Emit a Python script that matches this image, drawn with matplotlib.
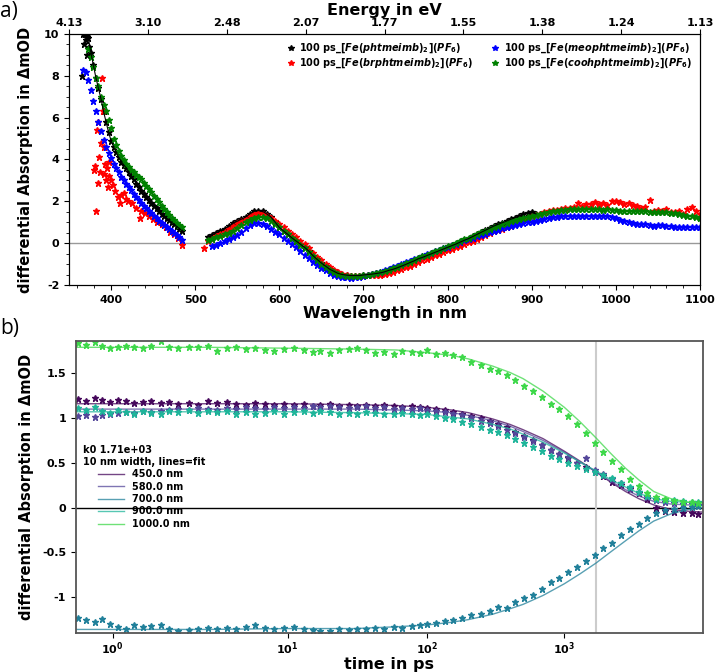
import numpy as np
import matplotlib
matplotlib.use("Agg")
import matplotlib.pyplot as plt
from matplotlib.ticker import AutoMinorLocator, FixedLocator, FixedFormatter

plt.rcParams['font.family'] = ['DejaVu Sans']
plt.rcParams['font.weight'] = 'bold'
plt.rcParams['axes.labelweight'] = 'bold'
plt.rcParams['axes.unicode_minus'] = False
plt.rcParams['mathtext.fontset'] = 'custom'
plt.rcParams['mathtext.rm'] = 'DejaVu Sans:bold'
plt.rcParams['mathtext.it'] = 'DejaVu Sans:bold:italic'
plt.rcParams['mathtext.bf'] = 'DejaVu Sans:bold'

# ---------------- panel a) : spectra at 100 ps ----------------
wl_uv = list(range(367, 485, 3))
black_uv = [10.0, 9.7, 9.8, 9.1, 8.5, 7.9, 7.4, 6.9, 6.3, 5.8, 5.3, 4.9, 4.6, 4.35, 4.1, 3.9,
            3.75, 3.6, 3.4, 3.2, 3.05, 2.85, 2.67, 2.5, 2.35, 2.2, 2.05, 1.92, 1.8, 1.66,
            1.53, 1.4, 1.3, 1.2, 1.1, 1.0, 0.9, 0.8, 0.7, 0.6]
black_extra_wl = [366, 368, 369, 371, 372, 374]
black_extra = [8.0, 9.5, 10.0, 9.0, 10.0, 9.4]
green_uv = [np.nan, np.nan, 9.3, 8.9, 8.4, 7.9, 7.5, 7.0, 6.6, 6.3, 5.9, 5.5, 5.0, 4.7, 4.4, 4.15,
            3.97, 3.8, 3.65, 3.5, 3.38, 3.26, 3.16, 3.05, 2.9, 2.74, 2.58, 2.43, 2.27, 2.11,
            1.95, 1.8, 1.64, 1.49, 1.35, 1.22, 1.1, 0.98, 0.88, 0.78]
blue_uv = [8.3, 8.2, 7.8, 7.3, 6.8, 6.3, 5.8, 5.35, 4.95, 4.6, 4.3, 4.05, 3.8, 3.58, 3.38, 3.18,
           3.0, 2.83, 2.68, 2.52, 2.37, 2.22, 2.07, 1.93, 1.8, 1.67, 1.55, 1.43, 1.32, 1.2,
           1.08, 0.98, 0.88, 0.78, 0.68, 0.58, 0.48, 0.38, 0.28, 0.15]
red_uv_wl = [380, 381, 382, 383, 384, 385, 386, 387, 388, 389, 390, 391, 392, 393, 394, 395,
             396, 397, 398, 400, 402, 405, 408, 410, 412, 415, 418, 420, 425, 430, 434, 435,
             440, 445, 450, 455, 460, 465, 470, 475, 480, 484]
red_uv = [3.5, 3.7, 1.55, 5.4, 2.9, 5.8, 4.1, 3.4, 4.8, 7.9, 6.3, 4.6, 3.3, 3.8, 3.0, 3.6,
          2.7, 3.9, 3.2, 3.0, 2.8, 2.5, 2.2, 1.9, 2.3, 2.4, 2.1, 2.0, 1.9, 1.7, 1.2, 1.55,
          1.45, 1.3, 1.15, 1.0, 0.9, 0.75, 0.55, 0.45, 0.25, -0.1]

wl_black_vis = list(range(515, 906, 5))
black_vis = [0.3, 0.4, 0.5, 0.6, 0.7, 0.8, 0.95, 1.05, 1.15, 1.25,
             1.4, 1.52, 1.56, 1.52, 1.4, 1.25, 1.0, 0.75, 0.58, 0.42,
             0.25, 0.1, -0.05, -0.2, -0.38, -0.6, -0.78, -0.95, -1.1, -1.25,
             -1.35, -1.45, -1.5, -1.53, -1.55, -1.55, -1.55, -1.52, -1.5, -1.48,
             -1.45, -1.42, -1.37, -1.3, -1.25, -1.18, -1.1, -1.02, -0.93, -0.85,
             -0.75, -0.68, -0.6, -0.52, -0.44, -0.36, -0.28, -0.2, -0.12, -0.04,
             0.05, 0.14, 0.22, 0.32, 0.42, 0.52, 0.62, 0.72, 0.82, 0.9,
             0.98, 1.06, 1.14, 1.22, 1.3, 1.38, 1.44, 1.47, 1.4]
wl_green_vis = list(range(515, 1101, 5))
green_vis = [0.15, 0.2, 0.28, 0.35, 0.42, 0.5, 0.6, 0.72, 0.85, 1.0,
             1.12, 1.22, 1.27, 1.25, 1.18, 1.05, 0.9, 0.75, 0.58, 0.42,
             0.27, 0.1, -0.07, -0.25, -0.42, -0.62, -0.8, -0.98, -1.13, -1.27,
             -1.38, -1.47, -1.52, -1.55, -1.57, -1.57, -1.55, -1.53, -1.5, -1.46,
             -1.42, -1.38, -1.33, -1.27, -1.2, -1.12, -1.04, -0.96, -0.88, -0.8,
             -0.72, -0.63, -0.55, -0.47, -0.39, -0.31, -0.23, -0.15, -0.07, 0.02,
             0.1, 0.19, 0.27, 0.35, 0.43, 0.52, 0.6, 0.68, 0.76, 0.84,
             0.91, 0.98, 1.05, 1.11, 1.17, 1.22, 1.27, 1.3, 1.35, 1.4,
             1.44, 1.48, 1.52, 1.55, 1.58, 1.6, 1.62, 1.62, 1.63, 1.64,
             1.63, 1.63, 1.63, 1.62, 1.6, 1.61, 1.58, 1.57, 1.56, 1.55,
             1.54, 1.52, 1.53, 1.52, 1.52, 1.5, 1.5, 1.49, 1.48, 1.47,
             1.45, 1.42, 1.4, 1.36, 1.32, 1.28, 1.24, 1.2]
wl_blue_vis = list(range(520, 1101, 5))
blue_vis = [-0.15, -0.1, 0.0, 0.1, 0.2, 0.3, 0.4, 0.55, 0.72, 0.88,
            0.97, 0.98, 0.92, 0.82, 0.7, 0.55, 0.42, 0.27, 0.12, -0.03,
            -0.2, -0.37, -0.55, -0.72, -0.88, -1.03, -1.17, -1.3, -1.42, -1.5,
            -1.57, -1.62, -1.64, -1.65, -1.64, -1.62, -1.58, -1.54, -1.49, -1.43,
            -1.37, -1.3, -1.23, -1.15, -1.07, -0.99, -0.91, -0.83, -0.76, -0.69,
            -0.62, -0.54, -0.47, -0.39, -0.32, -0.24, -0.17, -0.1, -0.02, 0.06,
            0.13, 0.2, 0.27, 0.34, 0.4, 0.46, 0.53, 0.59, 0.65, 0.71,
            0.77, 0.83, 0.88, 0.92, 0.96, 1.0, 1.03, 1.07, 1.12, 1.16,
            1.2, 1.23, 1.26, 1.28, 1.29, 1.31, 1.32, 1.31, 1.32, 1.3,
            1.31, 1.3, 1.29, 1.3, 1.28, 1.25, 1.2, 1.12, 1.07, 1.0,
            0.95, 0.92, 0.93, 0.9, 0.88, 0.84, 0.86, 0.85, 0.8, 0.82,
            0.78, 0.79, 0.76, 0.78, 0.76, 0.77, 0.78]
wl_red_vis = list(range(510, 1101, 5))
red_vis = [-0.25, 0.1, 0.2, 0.35, 0.45, 0.55, 0.7, 0.8, 0.95, 1.05,
           1.15, 1.3, 1.4, 1.42, 1.4, 1.32, 1.2, 1.05, 0.92, 0.78,
           0.6, 0.45, 0.3, 0.12, -0.05, -0.22, -0.45, -0.65, -0.82, -1.0,
           -1.15, -1.3, -1.4, -1.48, -1.52, -1.55, -1.55, -1.55, -1.55, -1.54,
           -1.53, -1.52, -1.5, -1.46, -1.42, -1.37, -1.3, -1.24, -1.15, -1.08,
           -1.0, -0.9, -0.82, -0.75, -0.67, -0.58, -0.5, -0.42, -0.35, -0.27,
           -0.2, -0.12, -0.02, 0.06, 0.12, 0.2, 0.3, 0.4, 0.5, 0.58,
           0.62, 0.68, 0.75, 0.84, 0.92, 1.02, 1.12, 1.22, 1.3, 1.35,
           1.4, 1.5, 1.55, 1.6, 1.58, 1.65, 1.7, 1.68, 1.72, 1.9,
           1.8, 1.88, 1.85, 1.95, 1.88, 1.9, 1.83, 2.0, 2.02, 1.95,
           1.85, 1.9, 1.82, 1.78, 1.7, 1.75, 2.05, 1.55, 1.6, 1.55,
           1.62, 1.5, 1.48, 1.55, 1.4, 1.62, 1.72, 1.55, 1.4]

spec_labels = [r'100 ps_[$Fe(phtmeimb)_2$]($PF_6$)',
               r'100 ps_[$Fe(brphtmeimb)_2$]($PF_6$)',
               r'100 ps_[$Fe(meophtmeimb)_2$]($PF_6$)',
               r'100 ps_[$Fe(coohphtmeimb)_2$]($PF_6$)']
energy_tick_wl = [300, 400, 500, 600, 700, 800, 900, 1000, 1100]

# ---------------- panel b) : kinetics ----------------
time_ps = [0.78, 0.82, 0.87, 0.92, 0.98, 1.05, 1.13, 1.22, 1.33, 1.46, 1.62, 1.8, 2.0, 2.3,
           2.6, 3.0, 3.4, 3.9, 4.5, 5.2, 6.0, 7.0, 8.1, 9.4, 11, 13, 15, 17, 20, 23, 27, 31,
           36, 42, 49, 57, 66, 77, 89, 100, 115, 135, 155, 180, 210, 245, 285, 330, 380,
           440, 510, 590, 690, 800, 920, 1070, 1240, 1440, 1670, 1930, 2240, 2600, 3000,
           3500, 4050, 4700, 5400, 6300, 7300, 8500, 9500]
kin_450 = [1.21, 1.19, 1.22, 1.20, 1.18, 1.20, 1.19, 1.17, 1.18, 1.19, 1.17, 1.18, 1.16, 1.17,
           1.15, 1.19, 1.17, 1.18, 1.16, 1.15, 1.17, 1.16, 1.15, 1.16, 1.15, 1.16, 1.14, 1.15,
           1.16, 1.14, 1.15, 1.14, 1.15, 1.13, 1.15, 1.14, 1.12, 1.13, 1.12, 1.11, 1.10, 1.09,
           1.07, 1.05, 1.02, 1.00, 0.97, 0.93, 0.90, 0.85, 0.80, 0.75, 0.70, 0.64, 0.60, 0.55,
           0.50, 0.45, 0.40, 0.35, 0.29, 0.25, 0.21, 0.16, 0.10, 0.0, -0.04, -0.05, -0.06,
           -0.06, -0.07]
kin_580 = [1.02, 1.03, 1.01, 1.03, 1.05, 1.06, 1.07, 1.06, 1.08, 1.07, 1.08, 1.09, 1.10, 1.09,
           1.11, 1.10, 1.09, 1.11, 1.10, 1.12, 1.11, 1.10, 1.12, 1.11, 1.12, 1.11, 1.13, 1.12,
           1.13, 1.12, 1.11, 1.12, 1.13, 1.11, 1.12, 1.10, 1.11, 1.10, 1.11, 1.09, 1.08, 1.07,
           1.05, 1.03, 1.00, 0.97, 0.94, 0.91, 0.87, 0.83, 0.79, 0.74, 0.70, 0.64, 0.60, 0.56,
           0.50, 0.55, 0.42, 0.37, 0.32, 0.27, 0.22, 0.17, 0.12, 0.09, 0.06, 0.05, 0.04, 0.04,
           0.03]
kin_700 = [-1.23, -1.25, -1.28, -1.24, -1.30, -1.33, -1.35, -1.31, -1.33, -1.32, -1.31, -1.36,
           -1.38, -1.37, -1.35, -1.34, -1.35, -1.34, -1.35, -1.33, -1.31, -1.34, -1.36, -1.34,
           -1.33, -1.35, -1.37, -1.38, -1.38, -1.36, -1.37, -1.35, -1.36, -1.34, -1.35, -1.33,
           -1.34, -1.32, -1.31, -1.30, -1.29, -1.27, -1.26, -1.23, -1.20, -1.19, -1.15, -1.11,
           -1.12, -1.05, -1.01, -0.97, -0.91, -0.83, -0.79, -0.72, -0.66, -0.60, -0.53, -0.45,
           -0.40, -0.31, -0.24, -0.18, -0.12, -0.06, -0.03, -0.01, 0.0, 0.01, 0.02]
kin_900 = [1.11, 1.09, 1.12, 1.08, 1.06, 1.09, 1.07, 1.05, 1.08, 1.06, 1.05, 1.08, 1.07, 1.09,
           1.06, 1.08, 1.07, 1.08, 1.05, 1.07, 1.04, 1.06, 1.08, 1.05, 1.07, 1.08, 1.06, 1.08,
           1.07, 1.04, 1.06, 1.05, 1.07, 1.06, 1.05, 1.04, 1.06, 1.05, 1.03, 1.04, 1.02, 1.00,
           0.99, 0.96, 0.93, 0.90, 0.87, 0.84, 0.81, 0.77, 0.72, 0.68, 0.63, 0.58, 0.54, 0.50,
           0.46, 0.43, 0.40, 0.36, 0.33, 0.28, 0.23, 0.18, 0.13, 0.10, 0.09, 0.08, 0.07, 0.06,
           0.06]
kin_1000 = [1.84, 1.82, 1.85, 1.81, 1.78, 1.79, 1.80, 1.79, 1.78, 1.80, 1.86, 1.79, 1.78, 1.79,
            1.79, 1.80, 1.75, 1.78, 1.79, 1.77, 1.78, 1.76, 1.75, 1.77, 1.78, 1.76, 1.74, 1.75,
            1.73, 1.76, 1.77, 1.78, 1.76, 1.73, 1.74, 1.72, 1.75, 1.74, 1.73, 1.76, 1.71, 1.73,
            1.70, 1.68, 1.63, 1.59, 1.55, 1.52, 1.48, 1.42, 1.36, 1.30, 1.23, 1.16, 1.10, 1.02,
            0.93, 0.83, 0.72, 0.62, 0.52, 0.43, 0.32, 0.24, 0.16, 0.12, 0.10, 0.07, 0.06, 0.06,
            0.05]

fit_time = [0.77, 1, 3, 10, 30, 60, 100, 150, 200, 300, 400, 500, 700, 1000, 1300, 1700,
            2200, 2800, 3500, 4500, 6000, 8000, 10300]
fit_450 = [1.16, 1.16, 1.16, 1.16, 1.15, 1.14, 1.12, 1.09, 1.06, 0.99, 0.93, 0.87, 0.77, 0.63,
           0.52, 0.40, 0.28, 0.18, 0.10, 0.03, -0.02, -0.04, -0.05]
fit_580 = [1.10, 1.10, 1.10, 1.10, 1.10, 1.09, 1.08, 1.06, 1.03, 0.97, 0.91, 0.85, 0.75, 0.62,
           0.51, 0.40, 0.29, 0.20, 0.13, 0.07, 0.04, 0.03, 0.03]
fit_700 = [-1.36, -1.36, -1.36, -1.35, -1.35, -1.33, -1.31, -1.28, -1.25, -1.19, -1.13, -1.08,
           -0.98, -0.85, -0.74, -0.62, -0.49, -0.37, -0.26, -0.15, -0.07, -0.02, 0.0]
fit_900 = [1.07, 1.07, 1.07, 1.07, 1.06, 1.05, 1.04, 1.01, 0.99, 0.93, 0.88, 0.82, 0.73, 0.61,
           0.51, 0.41, 0.31, 0.23, 0.16, 0.10, 0.07, 0.06, 0.06]
fit_1000 = [1.79, 1.79, 1.79, 1.78, 1.77, 1.76, 1.73, 1.70, 1.66, 1.58, 1.51, 1.44, 1.30, 1.12,
            0.96, 0.78, 0.60, 0.44, 0.31, 0.18, 0.10, 0.06, 0.05]
kin_labels = ['450.0 nm', '580.0 nm', '700.0 nm', '900.0 nm', '1000.0 nm']
kin_colors = ['#46085c', '#54479a', '#21809a', '#1fb59a', '#3ed84a']
k0 = 1710.0


def fwd(t):
    return np.log10(np.clip(np.asarray(t, dtype=float) - 0.5, 1e-3, None))


def inv(y):
    return 10 ** np.asarray(y, dtype=float) + 0.5


fig = plt.figure(figsize=(7.16, 6.72), dpi=100)

# panel a
ax = fig.add_axes([0.0964, 0.5759, 0.8813, 0.3735])
ms = 4.8
ax.plot(wl_uv, black_uv, '*', color='black', ms=ms, label=spec_labels[0])
ax.plot(black_extra_wl, black_extra, '*', color='black', ms=ms)
ax.plot(wl_black_vis, black_vis, '*', color='black', ms=ms)
ax.plot(red_uv_wl, red_uv, '*', color='red', ms=ms, label=spec_labels[1])
ax.plot(wl_red_vis, red_vis, '*', color='red', ms=ms)
ax.plot(wl_uv, blue_uv, '*', color='blue', ms=ms, label=spec_labels[2])
ax.plot(wl_blue_vis, blue_vis, '*', color='blue', ms=ms)
ax.plot(wl_uv, green_uv, '*', color='green', ms=ms, label=spec_labels[3])
ax.plot(wl_green_vis, green_vis, '*', color='green', ms=ms)
ax.plot(wl_uv, black_uv, '-', color='black', lw=0.8, zorder=5)
ax.plot(wl_black_vis, black_vis, '-', color='black', lw=0.8, zorder=5)
ax.axhline(0, color='#999999', lw=1, zorder=0)
ax.set_xlim(350, 1100)
ax.set_ylim(-2, 10)
ax.set_yticks([-2, 0, 2, 4, 6, 8, 10])
ax.xaxis.set_minor_locator(AutoMinorLocator(5))
ax.yaxis.set_minor_locator(AutoMinorLocator(4))
ax.tick_params(labelsize=8)
ax.set_xlabel('Wavelength in nm', fontsize=11.5, labelpad=1)
ax.set_ylabel('differential Absorption in ΔmOD', fontsize=10.5, labelpad=8)
ax.legend(ncol=2, loc='upper right', frameon=False, fontsize=7, handletextpad=0.3,
          columnspacing=1.6, handlelength=1.2, markerscale=0.9, borderaxespad=0.4,
          labelspacing=0.15)

axt = ax.twiny()
axt.set_xlim(300, 1100)
axt.xaxis.set_major_locator(FixedLocator(energy_tick_wl))
axt.xaxis.set_major_formatter(FixedFormatter([f'{1239.84 / w:.2f}' for w in energy_tick_wl]))
axt.tick_params(labelsize=8, pad=1)
axt.set_xlabel('Energy in eV', fontsize=11.5, labelpad=2)

# panel b
bx = fig.add_axes([0.1061, 0.058, 0.8757, 0.4345])
bx.set_xscale('function', functions=(fwd, inv))
kin_data = [kin_450, kin_580, kin_700, kin_900, kin_1000]
kin_fits = [fit_450, fit_580, fit_700, fit_900, fit_1000]
for vals, fit, col, lab in zip(kin_data, kin_fits, kin_colors, kin_labels):
    bx.plot(time_ps, vals, '*', color=col, ms=5)
    bx.plot(fit_time, fit, '-', color=col, lw=1, alpha=0.75, label=lab)
bx.axhline(0, color='black', lw=1, zorder=0)
bx.axvline(k0, color='#cccccc', lw=1.5, zorder=0)
bx.set_xlim(0.77, 10300)
bx.set_ylim(-1.40, 1.86)
bx.xaxis.set_major_locator(FixedLocator([1, 10, 100, 1000]))
bx.xaxis.set_major_formatter(FixedFormatter([r'$10^0$', r'$10^1$', r'$10^2$', r'$10^3$']))
bx.set_yticks([-1, -0.5, 0, 0.5, 1, 1.5])
bx.set_yticklabels(['-1', '-0.5', '0', '0.5', '1', '1.5'])
bx.tick_params(labelsize=8)
bx.tick_params(axis='x', pad=1.5)
for sp in bx.spines.values():
    sp.set_color('#555555')
    sp.set_linewidth(1.3)
bx.set_xlabel('time in ps', fontsize=11.5, labelpad=0)
bx.set_ylabel('differential Absorption in ΔmOD', fontsize=10.5, labelpad=6)
bx.legend(loc='center left', frameon=False, fontsize=7, title_fontsize=7,
          title='k0 1.71e+03\n10 nm width, lines=fit', handlelength=2.6,
          labelspacing=0.25, borderaxespad=0.3)

fig.text(0.0, 0.998, 'a)', fontsize=15, va='top', ha='left', family='Open Sans',
         fontweight='normal')
fig.text(0.0, 1 - 318 / 672, 'b)', fontsize=15, va='top', ha='left', family='Open Sans',
         fontweight='normal')

fig.savefig('out.png', dpi=100)
